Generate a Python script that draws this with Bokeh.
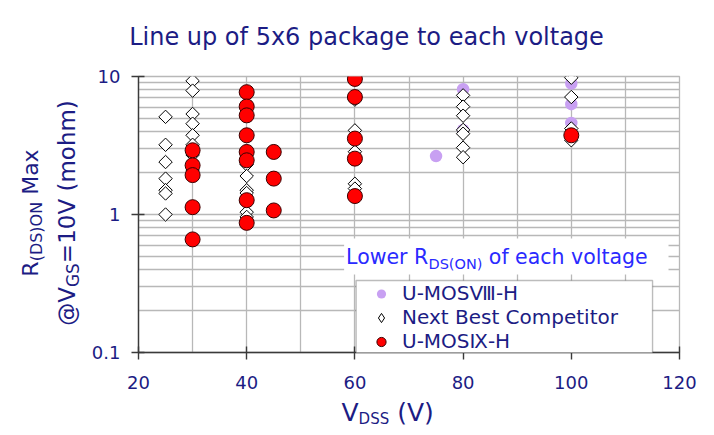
import numpy as np
from bokeh.plotting import figure
from bokeh.layouts import column, row
from bokeh.models import (Range1d, FixedTicker, SingleIntervalTicker, Label,
                          Legend, LegendItem, BoxAnnotation)
from bokeh.embed import file_html
from bokeh.resources import INLINE

# ---------------- data ----------------
mos8_vdss = [75, 80, 80, 100, 100, 100]
mos8_rds = [2.65, 8.1, 4.1, 8.9, 6.3, 4.6]

nbc_vdss = [25, 25, 25, 25, 25, 25, 25,
            30, 30, 30, 30, 30, 30, 30, 30,
            40, 40, 40, 40, 40, 40,
            60, 60, 60, 60, 60,
            80, 80, 80, 80, 80, 80, 80,
            100, 100, 100, 100]
nbc_rds = [5.1, 3.2, 2.4, 1.82, 1.5, 1.42, 1.0,
           9.3, 7.9, 5.35, 4.55, 3.75, 3.2, 2.7, 2.1,
           2.3, 1.9, 1.5, 1.43, 1.04, 0.96,
           6.8, 4.07, 2.85, 1.67, 1.54,
           7.3, 6.05, 5.2, 4.1, 3.85, 3.05, 2.6,
           9.8, 7.1, 4.2, 3.45]

mos9_vdss = [30, 30, 30, 30, 30,
             40, 40, 40, 40, 40, 40, 40, 40,
             45, 45, 45,
             60, 60, 60, 60, 60,
             100]
mos9_rds = [2.92, 2.27, 1.93, 1.13, 0.66,
            7.7, 6.06, 5.23, 3.75, 2.84, 2.47, 1.27, 0.87,
            2.84, 1.82, 1.07,
            9.6, 7.1, 3.55, 2.54, 1.36,
            3.75]

series_names = ["U-MOS\u2167-H", "Next Best Competitor", "U-MOS\u2168-H"]
title_text = "Line up of 5x6 package to each voltage"
x_ticks = [20, 40, 60, 80, 100, 120]
y_ticks = [0.1, 1, 10]
y_tick_labels = {0.1: "0.1", 1: "1", 10: "10"}
y_grid = [0.1, 0.2, 0.3, 0.4, 0.5, 0.6, 0.7, 0.8, 0.9,
          1, 2, 3, 4, 5, 6, 7, 8, 9, 10]

# ---------------- layout geometry (page px) ----------------
W, H = 712, 433
FL, FR, FT, FB = 137, 679, 76, 352      # plot frame
TOP_H = 60          # title strip (full width)
LEFT_W = 88         # y-label strip (beside the plot)
MAIN_BOTTOM = 397
MAIN_W = W - LEFT_W
MAIN_H = MAIN_BOTTOM - TOP_H
BOT_H = H - MAIN_BOTTOM
FONT = "DejaVu Sans"
NAVY = "#1c1c84"
BLUE = "#2a2aff"
BASE_FIX = 0.3      # alphabetic baseline correction (fraction of font size)

ADV = {'A': .684, 'B': .686, 'C': .698, 'D': .770, 'E': .632, 'G': .775, 'H': .752,
       'I': .295, 'L': .557, 'M': .863, 'N': .748, 'O': .787, 'R': .695, 'S': .635,
       'U': .732, 'V': .684, 'X': .685, 'a': .613, 'c': .550, 'e': .615, 'f': .352,
       'g': .635, 'h': .634, 'i': .278, 'k': .579, 'l': .278, 'm': .974, 'n': .634,
       'o': .612, 'p': .635, 'r': .411, 's': .521, 't': .392, 'u': .634, 'v': .592,
       'w': .818, 'x': .592, ' ': .318, '(': .390, ')': .390, '=': .838, '@': 1.0,
       '-': .361, '.': .318}
for d in "0123456789":
    ADV[d] = .636


def tw(s, size):
    return sum(ADV.get(c, .6) for c in s) * size


def mid_of(base, size):
    # position of a "middle" anchored text whose alphabetic baseline is at `base`
    return base - 0.33 * size - 2.5


def text_strip(w, h, yr):
    f = figure(width=w, height=h, x_range=Range1d(0, w), y_range=Range1d(0, yr),
               output_backend="svg", toolbar_location=None, title=None,
               x_axis_location=None, y_axis_location=None,
               min_border=0, min_border_left=0, min_border_right=0,
               min_border_top=0, min_border_bottom=0)
    f.grid.visible = False
    f.outline_line_color = None
    f.background_fill_color = "white"
    f.border_fill_color = "white"
    return f


def put(fig, x, y, text, size, color, align="left", baseline="alphabetic", angle=0.0):
    fig.add_layout(Label(x=x, y=y, text=text, text_font=FONT,
                         text_font_size=f"{size}px", text_color=color,
                         text_align=align, text_baseline=baseline, angle=angle))


# ---------------- main plot ----------------
p = figure(width=MAIN_W, height=MAIN_H, x_range=Range1d(20, 120), y_range=Range1d(0.1, 10),
           y_axis_type="log", output_backend="svg", toolbar_location=None,
           min_border_left=FL - LEFT_W, min_border_right=W - FR,
           min_border_top=FT - TOP_H, min_border_bottom=MAIN_BOTTOM - FB)
p.background_fill_color = "white"
p.border_fill_color = "white"
p.outline_line_color = "#b8b8b8"
p.outline_line_width = 1.3

p.xaxis.ticker = FixedTicker(ticks=x_ticks)
p.yaxis.ticker = FixedTicker(ticks=y_ticks)
p.yaxis.major_label_overrides = y_tick_labels
for ax in (p.xaxis[0], p.yaxis[0]):
    ax.axis_line_color = "#3a3a3a"
    ax.axis_line_width = 1.4
    ax.major_tick_line_color = "#3a3a3a"
    ax.major_tick_line_width = 1.4
    ax.major_tick_in = 6
    ax.major_tick_out = 7
    ax.minor_tick_line_color = None
    ax.major_label_text_font = FONT
    ax.major_label_text_font_size = "18px"
    ax.major_label_text_color = NAVY
p.yaxis.major_label_standoff = 11
p.xaxis.major_label_standoff = 16

p.xgrid.ticker = SingleIntervalTicker(interval=10)
p.ygrid.ticker = FixedTicker(ticks=y_grid)
for g in (p.xgrid[0], p.ygrid[0]):
    g.grid_line_color = "#b8b8b8"
    g.grid_line_width = 1.3

r_p = p.scatter(mos8_vdss, mos8_rds, marker="circle", size=12.5,
                fill_color="#c8a0f2", line_color=None)
# diamond-shaped key for the legend; fully hidden below the rotated squares
r_d_key = p.scatter(nbc_vdss, nbc_rds, marker="diamond", size=11,
                    fill_color="white", line_color="black", line_width=1)
r_d = p.scatter(nbc_vdss, nbc_rds, marker="square", angle=np.pi / 4, size=9.5,
                fill_color="white", line_color="black", line_width=1)
r_r = p.scatter(mos9_vdss, mos9_rds, marker="circle", size=15,
                fill_color="#ff0000", line_color="#3a0000", line_width=1)


def dx(cx):
    return 20 + (cx - FL) * 100.0 / (FR - FL)


def dy(cy):
    return 10 ** (1 - 2.0 * (cy - FT) / (FB - FT))


p.add_layout(BoxAnnotation(left=dx(343), right=dx(668), top=dy(238), bottom=dy(274),
                           fill_color="white", fill_alpha=1.0, line_alpha=0,
                           level="annotation"))
p.add_layout(BoxAnnotation(left=dx(355), right=dx(652), top=dy(280), bottom=dy(357),
                           fill_color="white", fill_alpha=1.0, line_color="#202020",
                           line_width=1.4, level="annotation"))

# note text with subscript (inside the plot frame)
cx = 345
for text, size, shift in [("Lower R", 20.5, 0), ("DS(ON)", 14.5, 5), (" of each voltage", 20.5, 0)]:
    if text.startswith(" "):
        cx += tw(" ", size)
        text = text[1:]
    put(p, dx(cx), dy(263 + shift - BASE_FIX * size), text, size, BLUE)
    cx += tw(text, size)

legend = Legend(items=[LegendItem(label=series_names[0], renderers=[r_p]),
                       LegendItem(label=series_names[1], renderers=[r_d_key]),
                       LegendItem(label=series_names[2], renderers=[r_r])],
                location=(355 - FL, FB - 357),
                label_text_font=FONT, label_text_font_size="20px",
                label_text_color=NAVY, glyph_width=42, glyph_height=23,
                label_height=20, spacing=0, padding=4, label_standoff=0,
                border_line_alpha=0, background_fill_alpha=0, margin=0)
p.add_layout(legend, "center")

# ---------------- title strip (full width, data = page px) ----------------
t_fig = text_strip(W, TOP_H, TOP_H)
put(t_fig, 366, TOP_H - mid_of(47, 24), title_text, 24, NAVY,
    align="center", baseline="middle")

# ---------------- x label strip (full width, data = page px) ----------------
x_fig = text_strip(W, BOT_H, BOT_H)
cx = 341
for text, size, shift in [("V", 25, 0), ("DSS", 15, 3), (" (V)", 25, 0)]:
    if text.startswith(" "):
        cx += tw(" ", size)
        text = text[1:]
    put(x_fig, cx, H - mid_of(423 + shift, size), text, size, NAVY,
        baseline="middle")
    cx += tw(text, size)

# ---------------- y label strip ----------------
# in a row its frame is aligned with the plot frame (FT..FB), so map that span
y_fig = text_strip(LEFT_W, MAIN_H, FB - FT)


def run_v(fig, base_x, cy_center, parts, color):
    total = sum(tw(t, s) for t, s, _ in parts)
    cy = cy_center + total / 2.0
    for text, size, shift in parts:
        if text.startswith(" "):
            cy -= tw(" ", size)
            text = text[1:]
        w = tw(text, size)
        mid_y = cy - w / 2.0
        mid_x = mid_of(base_x + shift, size)
        put(fig, mid_x, FB - mid_y, text, size, color,
            align="center", baseline="middle", angle=np.pi / 2)
        cy -= w


run_v(y_fig, 40, 212.5, [("R", 22, 0), ("(DS)ON", 16, 4), (" Max", 22, 0)], NAVY)
run_v(y_fig, 77, 212.5, [("@V", 23, 0), ("GS", 17, 4), ("=10V (mohm)", 23, 0)], NAVY)

layout = column(t_fig, row(y_fig, p, spacing=0), x_fig, spacing=0)
open("out.html", "w").write(file_html(layout, INLINE))
